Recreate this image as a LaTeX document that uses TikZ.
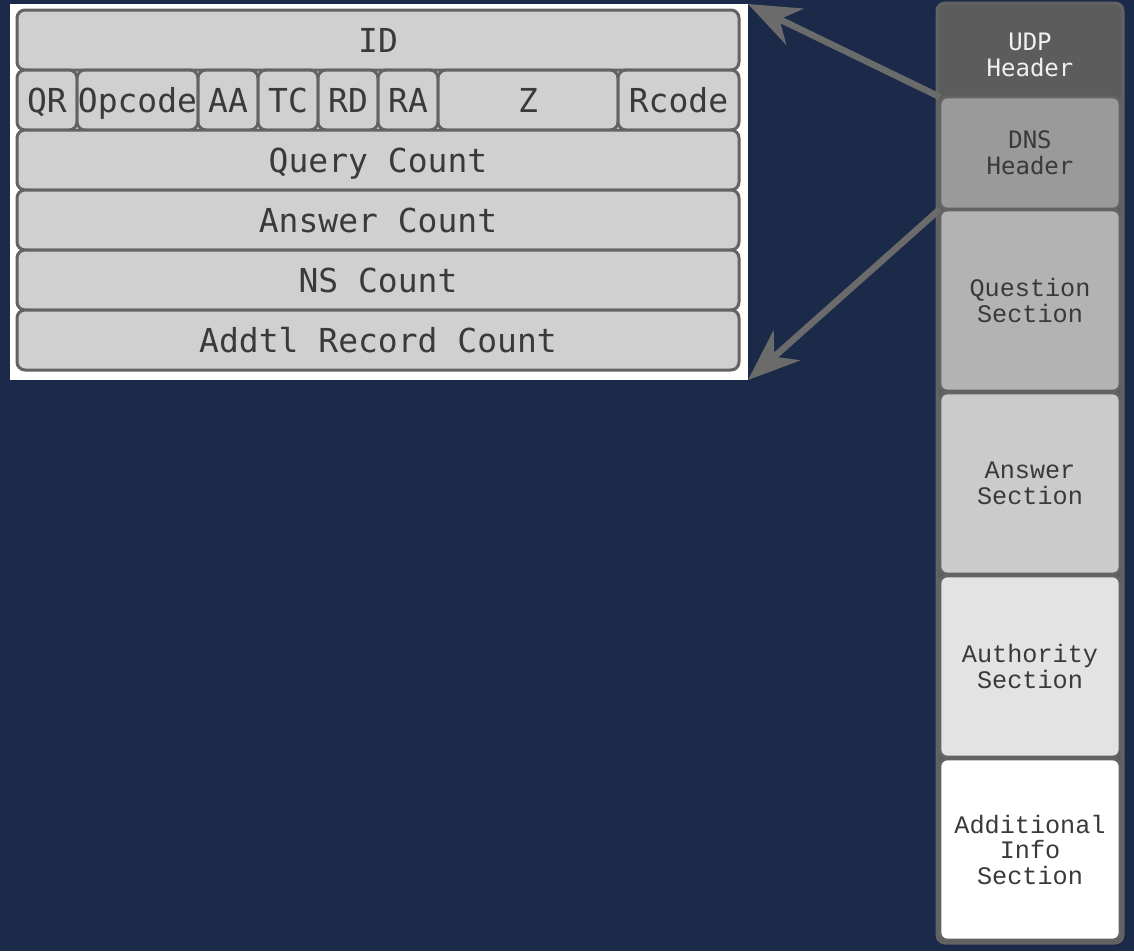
\documentclass[tikz,border=0pt]{standalone}
\usepackage{fontspec}
\usetikzlibrary{arrows.meta}
\newfontfamily\hdrfont{DejaVu Sans Mono}
\newfontfamily\secfont{Liberation Mono}
\definecolor{navy}{HTML}{1A2A48}
\definecolor{edge}{HTML}{636363}
\definecolor{rowfill}{HTML}{D0D0D0}
\definecolor{ink}{HTML}{3A3A3A}
\definecolor{udpfill}{HTML}{5C5C5C}
\definecolor{dnsfill}{HTML}{9A9A9A}
\definecolor{qfill}{HTML}{B3B3B3}
\definecolor{afill}{HTML}{CBCBCB}
\definecolor{authfill}{HTML}{E3E3E3}
\definecolor{addfill}{HTML}{FFFFFF}
\definecolor{pointer}{HTML}{6B6B6B}
\begin{document}
\begin{tikzpicture}[x=1pt,y=-1pt,
  panelbox/.style={fill=white, inner sep=0pt, outer sep=0pt},
  field/.style={draw=edge, line width=3pt, fill=rowfill, rounded corners=8pt,
    inner sep=0pt, outer sep=0pt, text=ink, minimum height=60pt,
    font=\hdrfont\fontsize{33}{37}\selectfont, text height=24pt, text depth=0pt},
  column/.style={draw=edge, line width=3pt, fill=udpfill, rounded corners=8pt,
    inner sep=0pt, outer sep=0pt, minimum width=186pt, minimum height=940pt},
  section/.style={draw=edge, line width=2.8pt, rounded corners=7pt,
    inner sep=0pt, outer sep=0pt, minimum width=180pt, text=ink, align=center,
    font=\secfont\fontsize{25.2}{25.5}\selectfont},
  hdrsection/.style={section, font=\hdrfont\fontsize{24}{25.5}\selectfont},
  pointerarrow/.style={draw=pointer, line width=6.5pt,
    -{Stealth[length=52pt, width=40pt, inset=17pt]}}
]
% background and bounds
\fill[navy] (0,0) rectangle (1134,951);
\useasboundingbox (0,0) rectangle (1134,951);

% white panel holding the header layout
\node[panelbox, minimum width=738pt, minimum height=376pt] (panel) at (379,192) {};

% header rows
\node[field, minimum width=722pt] (id) at (378,40) {ID};
\node[field, minimum width=60pt]  (qr) at (47,100) {QR};
\node[field, minimum width=121pt] (opcode) at (137.5,100) {Opcode};
\node[field, minimum width=60pt]  (aa) at (228,100) {AA};
\node[field, minimum width=60pt]  (tc) at (288,100) {TC};
\node[field, minimum width=60pt]  (rd) at (348,100) {RD};
\node[field, minimum width=60pt]  (ra) at (408,100) {RA};
\node[field, minimum width=180pt] (z) at (528,100) {Z};
\node[field, minimum width=121pt] (rcode) at (678.5,100) {Rcode};
\node[field, minimum width=722pt] (qdcount) at (378,160) {Query Count};
\node[field, minimum width=722pt] (ancount) at (378,220) {Answer Count};
\node[field, minimum width=722pt] (nscount) at (378,280) {NS Count};
\node[field, minimum width=722pt] (arcount) at (378,340) {Addtl Record Count};

% message layout column
\node[column] (msg) at (1030,473) {};
\node[hdrsection, draw=none, fill=none, text=white!94!black, minimum height=90pt] (udp) at (1030,55) {UDP\\Header};
\node[hdrsection, fill=dnsfill, minimum height=112pt] (dns) at (1030,153) {DNS\\Header};
\node[section, fill=qfill, minimum height=181pt] (question) at (1030,300.5) {Question\\Section};
\node[section, fill=afill, minimum height=181pt] (answer) at (1030,483.5) {Answer\\Section};
\node[section, fill=authfill, minimum height=181pt] (authority) at (1030,666.5) {Authority\\Section};
\node[section, fill=addfill, minimum height=181pt] (additional) at (1030,849.5) {Additional\\Info\\Section};

% pointers from the DNS header to the expanded layout
\draw[pointerarrow] (dns.north west) -- (panel.north east);
\draw[pointerarrow] (dns.south west) -- (panel.south east);
\end{tikzpicture}
\end{document}
